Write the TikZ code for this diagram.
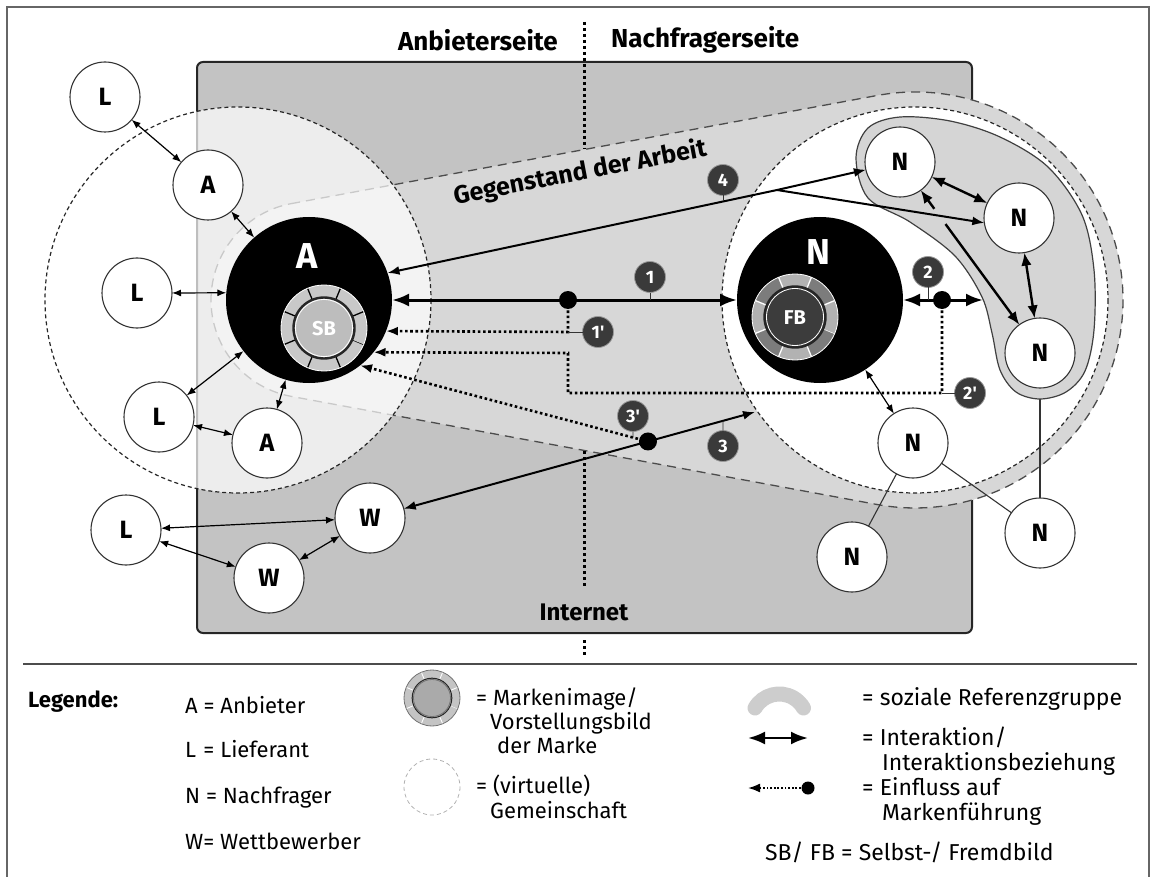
\documentclass[tikz,border=0pt]{standalone}
\usepackage{fontspec}
\setmainfont{Fira Sans}
\usetikzlibrary{arrows.meta,calc}
\pgfdeclarelayer{bg}
\pgfdeclarelayer{mid}
\pgfsetlayers{bg,mid,main}
\definecolor{netgray}{HTML}{C3C3C3}
\definecolor{gegengray}{HTML}{D7D7D7}
\definecolor{kidgray}{HTML}{D5D5D5}
\definecolor{badgegray}{HTML}{3A3A3A}
\definecolor{sbring}{HTML}{C8C8C8}
\definecolor{sbdisc}{HTML}{BDBDBD}
\definecolor{fbdark}{HTML}{7C7C7C}
\definecolor{fblight}{HTML}{B2B2B2}
\definecolor{fbdisc}{HTML}{3C3C3C}
\definecolor{lgring}{HTML}{C4C4C4}
\definecolor{lgdisc}{HTML}{AAAAAA}
\definecolor{lgkid}{HTML}{CDCDCD}
\tikzset{
  smalltip/.tip={Latex[length=9pt,width=7pt]},
  midtip/.tip={Latex[length=12pt,width=9pt]},
  nntip/.tip={Latex[length=13pt,width=10.5pt]},
  bigtip/.tip={Latex[length=17pt,width=13pt]},
  actor/.style={circle,draw=black!80,line width=1.1pt,fill=white,minimum size=70pt,inner sep=0pt,outer sep=0pt,font=\fontsize{25}{25}\selectfont\bfseries},
  bigactor/.style={circle,fill=black,minimum size=166pt,inner sep=0pt,outer sep=0pt},
  biglabel/.style={text=white,font=\fontsize{36}{36}\selectfont\bfseries,inner sep=0pt},
  ringlabel/.style={text=white,font=\fontsize{20}{20}\selectfont\bfseries,inner sep=0pt},
  badge/.style={circle,fill=badgegray,draw=black!40,line width=0.8pt,minimum size=31pt,inner sep=0pt,outer sep=0pt,text=white,font=\fontsize{18}{18}\selectfont\bfseries},
  badgetick/.style={line width=0.9pt,draw=black!80},
  thinarr/.style={smalltip-smalltip,line width=1.2pt},
  nnarr/.style={nntip-nntip,line width=2.4pt},
  midarr/.style={line width=2pt},
  bigarr/.style={bigtip-bigtip,line width=3pt},
  dotline/.style={line width=2.6pt,dash pattern=on 2.6pt off 2.6pt},
  infl/.style={dotline,-midtip},
  dotmark/.style={circle,fill=black,minimum size=18pt,inner sep=0pt,outer sep=0pt},
  plainlink/.style={line width=1.1pt,draw=black!80},
  hdr/.style={font=\fontsize{26}{26}\selectfont\bfseries,inner sep=0pt},
  legtext/.style={font=\fontsize{22}{22}\selectfont,inner sep=0pt,anchor=base west},
  legtextr/.style={font=\fontsize{23}{23}\selectfont,inner sep=0pt,anchor=base west},
  vdots/.style={line width=3pt,dash pattern=on 3pt off 3pt},
}
\newcommand{\brandring}[7]{%
  \begin{scope}[shift={#1},scale=#2]
    \foreach \k in {0,...,7}{%
      \pgfmathsetmacro{\ra}{22.5+45*\k}%
      \pgfmathsetmacro{\rb}{67.5+45*\k}%
      \ifodd\k \def\rc{#4}\else \def\rc{#3}\fi
      \fill[\rc] (\ra:43) arc[start angle=\ra,end angle=\rb,radius=43] -- (\rb:29) arc[start angle=\rb,end angle=\ra,radius=29] -- cycle;
      \draw[#5,line width=#2*1.3pt] (\ra:29) -- (\ra:43);
    }
    \draw[#7,line width=0.8pt] (0,0) circle[radius=43];
    \fill[#6] (0,0) circle[radius=30];
    \draw[black!85,line width=#2*#2*2.4pt] (0,0) circle[radius=30.5];
    \draw[#7,line width=0.8pt] (0,0) circle[radius=28.5];
  \end{scope}}
\begin{document}
\begin{tikzpicture}[x=1pt,y=-1pt]
\useasboundingbox (0,0) rectangle (1156,877);
% ---------------- backgrounds
\begin{pgfonlayer}{bg}
  \draw[black!60,line width=1.5pt] (7,890) -- (7,7) -- (1149,7) -- (1149,890);
  \draw[fill=netgray,draw=black!85,line width=2pt,rounded corners=6pt] (197,62) rectangle (972,633);
  \path[fill=gegengray] ($(309,300)+(259.54:98)$) -- ($(915,300)+(259.54:208)$)
     arc[start angle=259.54,end angle=460.46,radius=208]
     -- ($(309,300)+(100.46:98)$) arc[start angle=100.46,end angle=259.54,radius=98] -- cycle;
  \draw[black!70,line width=1.3pt,dash pattern=on 9pt off 6pt] ($(309,300)+(259.54:98)$) -- ($(915,300)+(259.54:208)$)
     arc[start angle=259.54,end angle=460.46,radius=208]
     -- ($(309,300)+(100.46:98)$) arc[start angle=100.46,end angle=259.54,radius=98] -- cycle;
  \fill[white,opacity=0.7] (238,300) circle[radius=193];
  \fill[white] (915,300) circle[radius=193];
  \draw[black!85,line width=1.2pt,dash pattern=on 4pt off 3pt] (238,300) circle[radius=193];
  \draw[black!85,line width=1.2pt,dash pattern=on 4pt off 3pt] (915,300) circle[radius=193];
\end{pgfonlayer}
% kidney (soziale Referenzgruppe)
\filldraw[fill=kidgray,draw=black!75,line width=1.2pt] plot[smooth cycle,tension=0.55] coordinates {
  (856,158) (868,128) (900,117) (950,121) (1000,137) (1048,167) (1082,215) (1094,270)
  (1094,330) (1085,371) (1066,392) (1040,399) (1016,392) (1000,370) (992,333) (982,297)
  (955,256) (910,222) (868,198)};
% headers
\node[hdr,anchor=east] (hA) at (558,40) {Anbieterseite};
\node[hdr,anchor=west] (hN) at (611,40) {Nachfragerseite};
\draw[vdots] (584,22) -- (584,149);
\draw[vdots] (584,451) -- (584,588);
\draw[vdots] (584,640) -- (584,656);
\node[hdr,font=\fontsize{24}{24}\selectfont\bfseries] (inet) at (584,612) {Internet};
\node[hdr,font=\fontsize{25}{25}\selectfont\bfseries,rotate=10.8] (gegen) at (580,173) {Gegenstand der Arbeit};
\draw[black!70,line width=1.5pt] (23,664) -- (1137,664);
% big actors
\node[bigactor] (bigA) at (309,300) {};
\node[biglabel] (bigAl) at (307,256) {A};
\node[bigactor] (bigN) at (820,300) {};
\node[biglabel] (bigNl) at (818,252) {N};
\brandring{(324,328)}{1}{sbring}{sbring}{black}{sbdisc}{white}
\node[ringlabel] (sb) at (324,329) {SB};
\brandring{(795,317)}{1}{fbdark}{fblight}{white}{fbdisc}{white}
\node[ringlabel] (fb) at (795,318) {FB};
% actors
\node[actor] (L1) at (105,97) {L};
\node[actor] (A1) at (208,185) {A};
\node[actor] (L2) at (137,293) {L};
\node[actor] (L3) at (159,417) {L};
\node[actor] (A2) at (267,443) {A};
\node[actor] (L4) at (126,530) {L};
\node[actor] (W1) at (370,518) {W};
\node[actor] (W2) at (269,578) {W};
\node[actor] (N1) at (900,162) {N};
\node[actor] (N2) at (1019,218) {N};
\node[actor] (N3) at (1040,353) {N};
\node[actor] (N4) at (913,443) {N};
\node[actor] (N5) at (852,557) {N};
\node[actor] (N6) at (1040,533) {N};
% plain links
\begin{pgfonlayer}{mid}
  \draw[plainlink] (N3) -- (N6);
\end{pgfonlayer}
\draw[plainlink] (N4) -- (N5);
\draw[plainlink] (N4) -- (N6);
% thin interactions
\draw[thinarr] (L1) -- (A1);
\draw[thinarr] (A1) -- (bigA);
\draw[thinarr] (L2.east) -- (bigA.175.2);
\draw[thinarr] (L3) -- (bigA);
\draw[thinarr] (L3) -- (A2);
\draw[thinarr] (A2) -- (bigA);
\draw[thinarr] (L4) -- (W1);
\draw[thinarr] (L4) -- (W2);
\draw[thinarr] (W2) -- (W1);
\draw[thinarr] (bigN) -- (N4);
% N-N interactions
\draw[nnarr] (N1) -- (N2);
\draw[nnarr] (N2) -- (N3);
\draw[line width=2.4pt,nntip-] (N1) -- ($(N1)!0.245!(N3)$);
\draw[line width=2.4pt,-nntip] ($(N1)!0.325!(N3)$) -- (N3);
% arrow 4
\coordinate (j4) at (777,190);
\draw[midarr,-midtip] (j4) -- (bigA.19);
\draw[midarr,-midtip] (j4) -- (N1);
\draw[midarr,-midtip] (j4) -- (N2.188);
\node[badge] (b4) at (723,180) {4};
\draw[badgetick] (b4.south) -- (723,201.5);
% arrow 1 / 1'
\draw[bigarr] (bigA.east) -- (bigN.west);
\node[dotmark] (d1) at (568,300) {};
\coordinate (c1) at (568,332);
\draw[infl] (d1.center) -- (c1) -- (bigA.-22.6);
\node[badge] (b1) at (650,277) {1};
\draw[badgetick] (b1.south) -- (b1.south |- d1.center);
\node[badge] (b1p) at (598,332) {1\textquotesingle};
\draw[badgetick] (c1) -- (b1p.west);
% arrow 2 / 2'
\coordinate (k2) at (983,300);
\draw[bigarr] (bigN.east) -- (k2);
\node[dotmark] (d2) at (942,300) {};
\coordinate (c2a) at (942,393);
\coordinate (c2b) at (568,393);
\coordinate (c2c) at (568,353);
\draw[infl] (d2.center) -- (c2a) -- (c2b) -- (c2c) -- (bigA.-39.6);
\node[badge] (b2) at (928,272) {2};
\draw[badgetick] (b2.south) -- (b2.south |- d2.center);
\node[badge] (b2p) at (970,393) {2\textquotesingle};
\draw[badgetick] (c2a) -- (b2p.west);
% arrow 3 / 3'
\coordinate (c3) at (755,412);
\draw[midarr,midtip-midtip] (W1) -- (c3);
\node[dotmark] (d3) at ($(W1)!0.722!(c3)$) {};
\draw[infl] (d3.center) -- (bigA.-52.7);
\node[badge] (b3) at (723,446) {3};
\draw[badgetick] (b3.north) -- ($(W1)!0.9169!(c3)$);
\node[badge] (b3p) at (633,416) {3\textquotesingle};
\draw[badgetick] (b3p.south) -- ($(d3.center)!0.052!(bigA.-52.7)$);
% ---------------- legend
\node[legtext,font=\fontsize{22}{22}\selectfont\bfseries] (leg) at (28,707) {Legende:};
\node[legtext] (lA) at (185,713) {A = Anbieter};
\node[legtext] (lL) at (185,757) {L\,\,= Lieferant};
\node[legtext] (lN) at (185,803) {N = Nachfrager};
\node[legtext] (lW) at (185,849) {W= Wettbewerber};
\brandring{(432,698)}{0.65}{lgring}{lgring}{white}{lgdisc}{black!55}
\node[legtext] (lM1) at (476,705) {= Markenimage/};
\node[legtext] (lM2) at (490,729) {Vorstellungsbild};
\node[legtext] (lM3) at (497,753) {der Marke};
\draw[black!30,line width=0.8pt,dash pattern=on 4pt off 3pt] (432,787) circle[radius=28];
\node[legtext] (lG1) at (476,793) {= (virtuelle)};
\node[legtext] (lG2) at (490,818) {Gemeinschaft};
\draw[lgkid,line width=15pt,line cap=round] (755,708) arc[start angle=210,end angle=330,radius=28];
\node[legtextr] (lS) at (862,705) {= soziale Referenzgruppe};
\coordinate (li1) at (748,738);
\coordinate (li2) at (808,738);
\draw[bigtip-bigtip,line width=2.6pt] (li1) -- (li2);
\node[legtextr] (lI1) at (862,745) {= Interaktion/};
\node[legtextr] (lI2) at (882,770) {Interaktionsbeziehung};
\coordinate (le1) at (748,788);
\node[dotmark,minimum size=13pt] (le2) at (808,788) {};
\draw[line width=1.8pt,dash pattern=on 1.8pt off 1.8pt,-midtip] (le2.center) -- (le1);
\node[legtextr] (lE1) at (862,795) {= Einfluss auf};
\node[legtextr] (lE2) at (882,820) {Markenführung};
\node[legtextr] (lF) at (765,860) {SB/ FB = Selbst-/ Fremdbild};
\end{tikzpicture}
\end{document}
